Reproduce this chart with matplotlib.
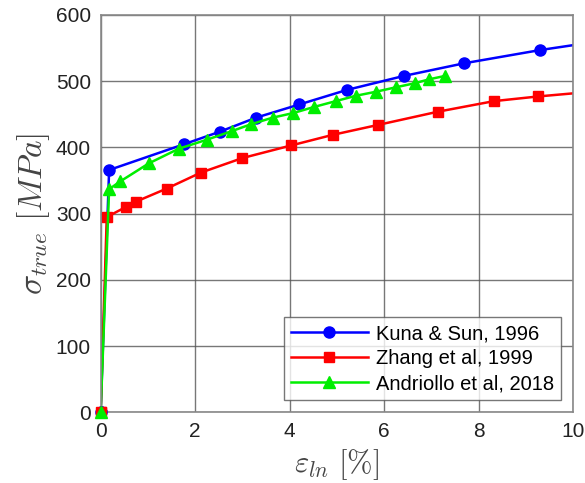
import matplotlib
matplotlib.use("Agg")
import matplotlib.pyplot as plt

plt.rcParams['font.family'] = ['Liberation Sans', 'DejaVu Sans']
plt.rcParams['mathtext.fontset'] = 'cm'

# Kuna & Sun, 1996
kuna_x = [0.0, 0.18, 1.77, 2.53, 3.29, 4.21, 5.22, 6.42, 7.69, 9.30, 11.0]
kuna_y = [0, 366, 405, 424, 445, 465, 487, 508, 527, 547, 565]

# Zhang et al, 1999
zhang_x = [0.0, 0.13, 0.53, 0.74, 1.40, 2.12, 3.00, 4.03, 4.91, 5.87, 7.14, 8.33, 9.26, 11.0]
zhang_y = [0, 295, 310, 318, 338, 362, 384, 403, 419, 434, 454, 470, 477, 488]

# Andriollo et al, 2018
andr_x = [0.0, 0.18, 0.42, 1.02, 1.65, 2.26, 2.79, 3.18, 3.64, 4.08, 4.51, 4.98,
          5.40, 5.82, 6.26, 6.65, 6.96, 7.29]
andr_y = [0, 337, 349, 376, 398, 412, 425, 435, 445, 452, 461, 470,
          478, 484, 491, 497, 503, 508]

series = [
    (kuna_x, kuna_y, 'o', '#0000ff', 8, 'Kuna & Sun, 1996'),
    (zhang_x, zhang_y, 's', '#ff0000', 7.5, 'Zhang et al, 1999'),
    (andr_x, andr_y, '^', '#00ee00', 8.5, 'Andriollo et al, 2018'),
]

fig = plt.figure(figsize=(5.85, 4.83), dpi=100)
ax = fig.add_axes([0.172, 0.146, 0.8075, 0.823])

for xs, ys, mk, col, ms, lab in series:
    ax.plot(xs, ys, '-' + mk, color=col, lw=1.8, ms=ms, label=lab)
    # first point sits on the axes corner, keep the marker whole
    ax.plot(xs[:1], ys[:1], mk, color=col, ms=ms, clip_on=False, zorder=3)

ax.set_xlim(0, 10)
ax.set_ylim(0, 600)
ax.set_xticks([0, 2, 4, 6, 8, 10])
ax.set_yticks([0, 100, 200, 300, 400, 500, 600])
ax.grid(True, color='#555555', lw=1.0, alpha=0.8)
ax.tick_params(labelsize=15, length=0, pad=7, labelcolor='#222222')
for s in ax.spines.values():
    s.set_color('#888888')
    s.set_linewidth(1.2)

ax.set_xlabel(r'$\varepsilon_{ln}\ [\%]$', fontsize=22, color='#444444', labelpad=4)
ax.set_ylabel(r'$\sigma_{true}\ [MPa]$', fontsize=24, color='#444444', labelpad=3)

leg = ax.legend(loc='lower right', fontsize=14.5, fancybox=False, edgecolor='#555555',
                borderaxespad=0.6, handlelength=3.8, handletextpad=0.4,
                labelspacing=0.3, borderpad=0.35)
leg.get_frame().set_linewidth(1.0)

fig.savefig('out.png', dpi=100)
